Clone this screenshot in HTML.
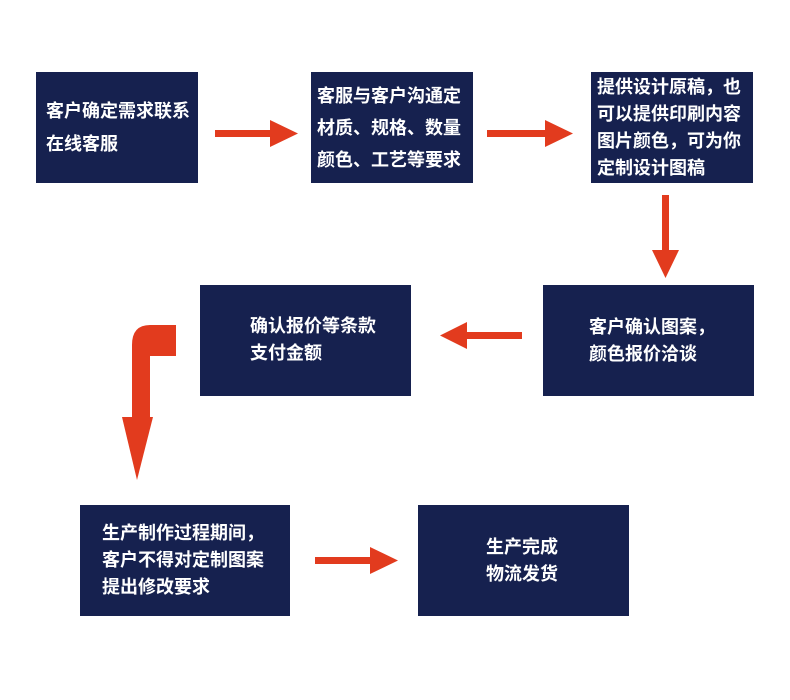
<!DOCTYPE html>
<html><head><meta charset="utf-8"><style>
body{margin:0;width:790px;height:700px;background:#fff;position:relative;overflow:hidden;font-family:"Liberation Sans","Noto Sans CJK SC",sans-serif;}
.b{position:absolute;background:#16214f;color:#fff;font-weight:bold;font-size:18px;line-height:27px;box-sizing:border-box;display:flex;align-items:center;}
.b div{white-space:nowrap}
</style></head><body>
<div class="b" style="left:36px;top:72px;width:162px;height:111px;padding-left:10px;line-height:33px"><div>客户确定需求联系<br>在线客服</div></div>
<div class="b" style="left:311px;top:72px;width:162px;height:111px;padding-left:6px;line-height:32px"><div>客服与客户沟通定<br>材质、规格、数量<br>颜色、工艺等要求</div></div>
<div class="b" style="left:591px;top:72px;width:162px;height:111px;padding-left:6px"><div>提供设计原稿，也<br>可以提供印刷内容<br>图片颜色，可为你<br>定制设计图稿</div></div>
<div class="b" style="left:200px;top:285px;width:211px;height:111px;padding-left:50px;align-items:flex-start;padding-top:28px"><div>确认报价等条款<br>支付金额</div></div>
<div class="b" style="left:543px;top:285px;width:211px;height:111px;padding-left:46px"><div>客户确认图案，<br>颜色报价洽谈</div></div>
<div class="b" style="left:80px;top:505px;width:210px;height:111px;padding-left:22px"><div>生产制作过程期间，<br>客户不得对定制图案<br>提出修改要求</div></div>
<div class="b" style="left:418px;top:505px;width:211px;height:111px;padding-left:68px"><div>生产完成<br>物流发货</div></div>
<svg width="790" height="700" style="position:absolute;left:0;top:0" fill="#e23b1e">
<rect x="215" y="130" width="60" height="7"/><polygon points="270,120 298,133.5 270,147"/>
<rect x="487" y="130" width="63" height="7"/><polygon points="545,120 573,133.5 545,147"/>
<rect x="662" y="195" width="7" height="60"/><polygon points="652,250 679,250 665.5,278"/>
<rect x="462" y="332" width="60" height="7"/><polygon points="467,322 440,335.5 467,349"/>
<path d="M176,325 L150,325 Q132,325 132,345 L132,418 L150,418 L150,356 L176,356 Z"/>
<polygon points="122,417 153,417 137,480"/>
<rect x="315" y="557" width="60" height="7"/><polygon points="370,547 398,560.5 370,574"/>
</svg>
</body></html>
